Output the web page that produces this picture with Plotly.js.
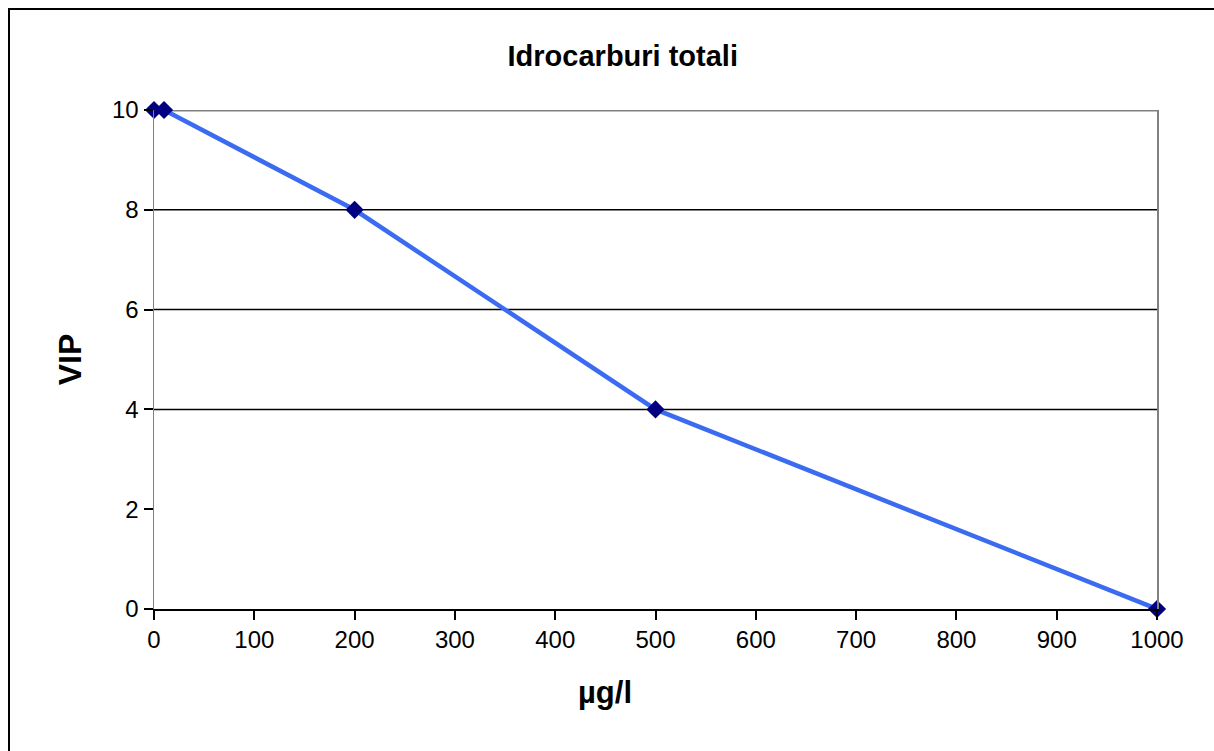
<!DOCTYPE html>
<html>
<head>
<meta charset="utf-8">
<script src="https://cdn.plot.ly/plotly-3.0.1.min.js"></script>
<style>
html,body{margin:0;padding:0;background:#fff;}
#frame{position:absolute;left:8px;top:8px;width:1206px;height:743px;border-left:2px solid #000;border-top:2px solid #000;box-sizing:border-box;pointer-events:none;z-index:5;}
#chart{width:1214px;height:751px;}
</style>
</head>
<body>
<div id="frame"></div>
<div id="chart"></div>
<script>
const concentrations = [0, 10, 200, 500, 1000];
const vipValues = [10, 10, 8, 4, 0];
const gridLevels = [4, 6, 8];
const xTicks = [0, 100, 200, 300, 400, 500, 600, 700, 800, 900, 1000];
const yTicks = [0, 2, 4, 6, 8, 10];
const chartTitle = 'Idrocarburi totali';
const xTitle = 'µg/l';
const yTitle = 'VIP';

const shapes = gridLevels.map(v => ({
  type: 'line', xref: 'paper', yref: 'y', x0: 0, x1: 1, y0: v, y1: v,
  line: {color: '#000', width: 1.5}, layer: 'below'
}));
shapes.push({
  type: 'line', xref: 'paper', yref: 'y', x0: 0, x1: 1, y0: yTicks[yTicks.length-1], y1: yTicks[yTicks.length-1],
  line: {color: '#808080', width: 3}, layer: 'below'
});

const trace = {
  x: concentrations, y: vipValues, type: 'scatter', mode: 'lines+markers',
  line: {color: '#3A6BF0', width: 4.5},
  marker: {symbol: 'diamond', size: 14, color: '#000080'},
  cliponaxis: false, hoverinfo: 'none'
};

const layout = {
  width: 1214, height: 751,
  margin: {l: 154, r: 57, t: 110, b: 142},
  paper_bgcolor: '#fff', plot_bgcolor: '#fff',
  showlegend: false,
  font: {family: 'Liberation Sans, Arial, sans-serif', color: '#000', size: 24},
  title: {text: '<b>' + chartTitle + '</b>', xref: 'container', x: 0.513, xanchor: 'center', yref: 'container', y: 0.925, yanchor: 'middle', font: {size: 29}},
  shapes: shapes,
  annotations: [{
    text: '<b>' + xTitle + '</b>', xref: 'paper', yref: 'paper', x: 0.45, y: -0.168,
    xanchor: 'center', yanchor: 'middle', showarrow: false, font: {size: 31}
  }],
  xaxis: {
    range: [0, 1000], tickvals: xTicks, ticktext: xTicks.map(String),
    showgrid: false, zeroline: false, showline: true, linecolor: '#000', linewidth: 1.5,
    ticks: 'outside', ticklen: 9, tickwidth: 2, tickcolor: '#000',
    tickfont: {size: 24}, fixedrange: true
  },
  yaxis: {
    range: [0, 10], tickvals: yTicks, ticktext: yTicks.map(String),
    showgrid: false, zeroline: false, showline: true, linecolor: '#808080', linewidth: 1.5, mirror: true,
    ticks: 'outside', ticklen: 9, tickwidth: 2, tickcolor: '#000',
    tickfont: {size: 24}, fixedrange: true,
    title: {text: '<b>' + yTitle + '</b>', font: {size: 32}, standoff: 21}
  }
};

Plotly.newPlot('chart', [trace], layout, {displayModeBar: false, staticPlot: true});
</script>
</body>
</html>
